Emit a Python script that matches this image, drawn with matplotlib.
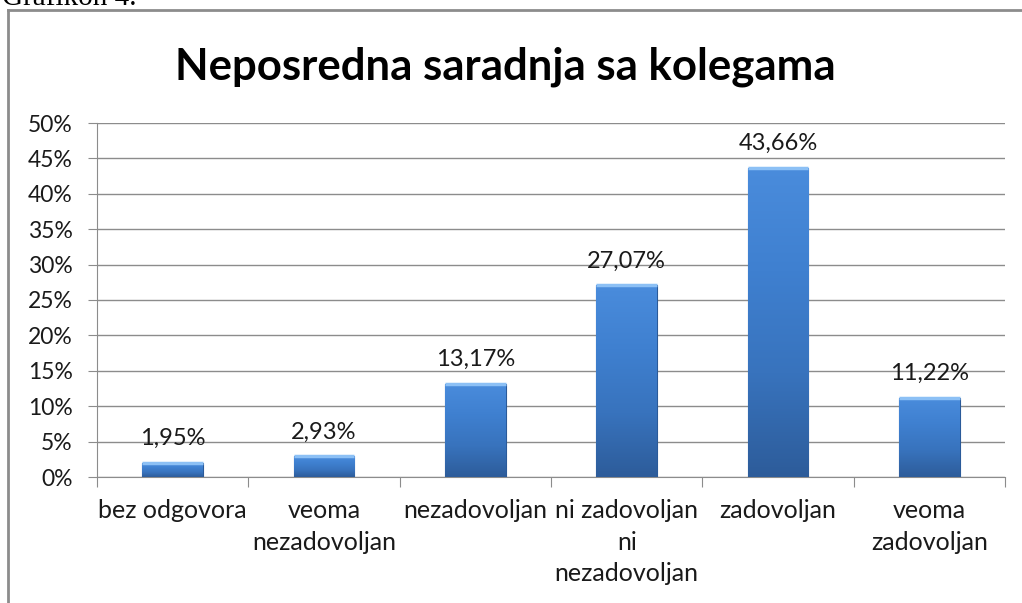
import numpy as np
import matplotlib.pyplot as plt
from matplotlib.lines import Line2D
from matplotlib.ticker import FixedLocator, FuncFormatter

categories = ['bez odgovora', 'veoma\nnezadovoljan', 'nezadovoljan',
              'ni zadovoljan\nni\nnezadovoljan', 'zadovoljan', 'veoma\nzadovoljan']
values = [1.95, 2.93, 13.17, 27.07, 43.66, 11.22]
value_labels = ['1,95%', '2,93%', '13,17%', '27,07%', '43,66%', '11,22%']
yticks = [0, 5, 10, 15, 20, 25, 30, 35, 40, 45, 50]

W, H = 1022, 603
fig = plt.figure(figsize=(W / 100, H / 100), dpi=100)
plt.rcParams['font.family'] = ['Lato', 'DejaVu Sans']

# outer chart frame (left and top edges visible)
fig.add_artist(Line2D([8 / W, 8 / W], [0, 1 - 10 / H], transform=fig.transFigure,
                      color='#8c8c8c', lw=2))
fig.add_artist(Line2D([8 / W, 1], [1 - 10 / H, 1 - 10 / H], transform=fig.transFigure,
                      color='#8c8c8c', lw=2))
# caption above the frame, cut at the top edge as in the page scan
fig.text(2 / W, 1 - 5 / H, 'Grafikon 4.', family='Liberation Serif', fontsize=21,
         va='baseline', ha='left', color='black')

ax = fig.add_axes([97 / W, 1 - 477 / H, (1005 - 97) / W, (477 - 123) / H])
x = np.arange(len(categories))
bars = ax.bar(x, values, width=0.4, color='#3b79c8', edgecolor='#2a5a99', lw=0.8, zorder=3)

# vertical gradient inside each bar
grad = np.linspace(0, 1, 256).reshape(-1, 1)
cmap = plt.matplotlib.colors.LinearSegmentedColormap.from_list(
    'bar', ['#2d5c9a', '#3873bd', '#3f80d0', '#4a8cdc'])
for b in bars:
    bx, by, bw, bh = b.get_x(), b.get_y(), b.get_width(), b.get_height()
    im = ax.imshow(grad, extent=[bx, bx + bw, by, by + bh], origin='lower',
                   cmap=cmap, aspect='auto', zorder=3.5)
    im.set_clip_path(b)
    ax.plot([bx, bx + bw], [by + bh, by + bh], color='#8cc0f5', lw=2.5, zorder=4,
            solid_capstyle='butt')

for xi, v, lab in zip(x, values, value_labels):
    ax.annotate(lab, (xi, v), xytext=(0, 10), textcoords='offset points',
                ha='center', va='bottom', fontsize=17, color='#1a1a1a')

ax.set_xlim(-0.5, len(categories) - 0.5)
ax.set_ylim(0, 50)
ax.yaxis.set_major_locator(FixedLocator(yticks))
ax.yaxis.set_major_formatter(FuncFormatter(lambda v, p: f'{int(v)}%'))
ax.grid(axis='y', color='#8c8c8c', lw=1, zorder=0)
ax.set_axisbelow(True)

ax.set_xticks(np.arange(len(categories) + 1) - 0.5)
ax.set_xticklabels([])
ax.set_xticks(x, minor=True)
ax.set_xticklabels(categories, minor=True, fontsize=18, linespacing=1.45, color='#1a1a1a')
ax.tick_params(axis='x', which='major', length=7, color='#8c8c8c', direction='out')
ax.tick_params(axis='x', which='minor', length=0, pad=16)
ax.tick_params(axis='y', length=6.5, color='#8c8c8c', labelsize=16.5, labelcolor='#1a1a1a', pad=11)

for s in ['top', 'right']:
    ax.spines[s].set_visible(False)
ax.spines['left'].set_color('#8c8c8c')
ax.spines['bottom'].set_color('#8c8c8c')

fig.text(505 / W, 1 - 67 / H, 'Neposredna saradnja sa kolegama', ha='center', va='center',
         fontsize=31.5, fontweight='bold', color='black')

fig.savefig('out.png', dpi=100)
